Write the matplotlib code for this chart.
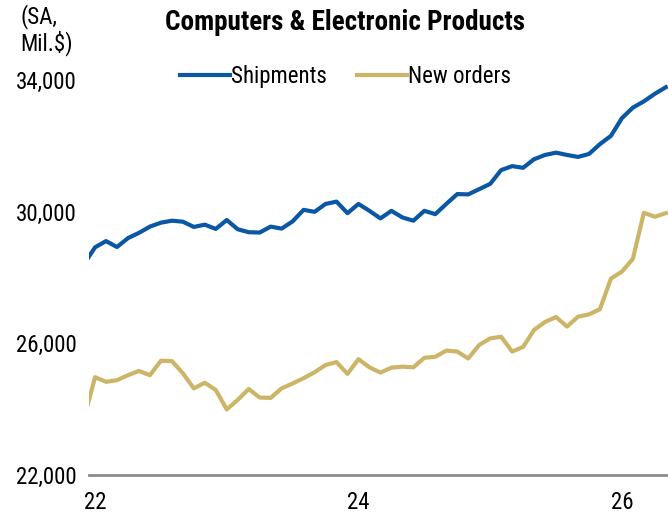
import matplotlib
matplotlib.use("Agg")
import matplotlib.pyplot as plt
import numpy as np

# Monthly data, Dec 2021 .. May 2026 (index 0 = Jan 2022)
months = list(range(-1, 53))
shipments = [28400, 28910, 29100, 28920, 29190, 29350, 29540, 29660, 29720, 29690,
             29530, 29600, 29470, 29740, 29460, 29370, 29360, 29540, 29480, 29700,
             30050, 29990, 30230, 30300, 29950, 30230, 30020, 29790, 30020, 29820,
             29720, 30020, 29920, 30230, 30530, 30520, 30680, 30840, 31260, 31380,
             31330, 31590, 31720, 31790, 31720, 31660, 31750, 32050, 32300, 32840,
             33160, 33350, 33580, 33780]
new_orders = [23700, 24960, 24820, 24870, 25020, 25150, 25020, 25460, 25450, 25080,
              24620, 24790, 24570, 23980, 24270, 24600, 24340, 24330, 24620, 24770,
              24930, 25110, 25330, 25420, 25060, 25510, 25260, 25100, 25250, 25280,
              25260, 25550, 25580, 25770, 25740, 25530, 25940, 26140, 26190, 25740,
              25880, 26400, 26640, 26790, 26500, 26800, 26870, 27030, 27960, 28170,
              28560, 29960, 29840, 29950]
x_ticks = [0, 24, 48]
x_tick_labels = ["22", "24", "26"]
y_ticks = [22000, 26000, 30000, 34000]

plt.rcParams['font.family'] = ['Roboto Condensed', 'Liberation Sans Narrow', 'Roboto', 'DejaVu Sans']

fig = plt.figure(figsize=(6.68, 5.17), dpi=100)
ax = fig.add_axes([89/668, 1 - 474.5/517, 1 - 89/668, (474.5 - 80)/517])

blue = "#0a57a4"
gold = "#cdb567"
ax.plot(months, shipments, color=blue, lw=3.0, label="Shipments", solid_joinstyle="round")
ax.plot(months, new_orders, color=gold, lw=3.0, label="New orders", solid_joinstyle="round")

ax.set_xlim(-0.55, 52.2)
ax.set_ylim(22000, 34000)
ax.set_xticks(x_ticks)
ax.set_xticklabels(x_tick_labels)
ax.set_yticks(y_ticks)
ax.set_yticklabels([f"{v:,}" for v in y_ticks])
ax.tick_params(axis="x", length=0, pad=12, labelsize=16.5)
ax.tick_params(axis="y", length=0, pad=9, labelsize=16.5)

for s in ["top", "right", "left"]:
    ax.spines[s].set_visible(False)
ax.spines["bottom"].set_color("#8c8c8c")
ax.spines["bottom"].set_linewidth(2)

leg = ax.legend(loc="center", bbox_to_anchor=(0.443, 1.01), ncol=2, frameon=False,
                fontsize=16.5, handlelength=2.2, handletextpad=0.05, columnspacing=1.3)

fig.text(345/668, 1 - 22/517, "Computers & Electronic Products", ha="center", va="center",
         fontsize=19.5, fontweight="bold")
fig.text(20/668, 1 - 30/517, "(SA,\nMil.$)", ha="left", va="center", fontsize=16.5,
         linespacing=1.05)

fig.savefig("out.png", dpi=100)
